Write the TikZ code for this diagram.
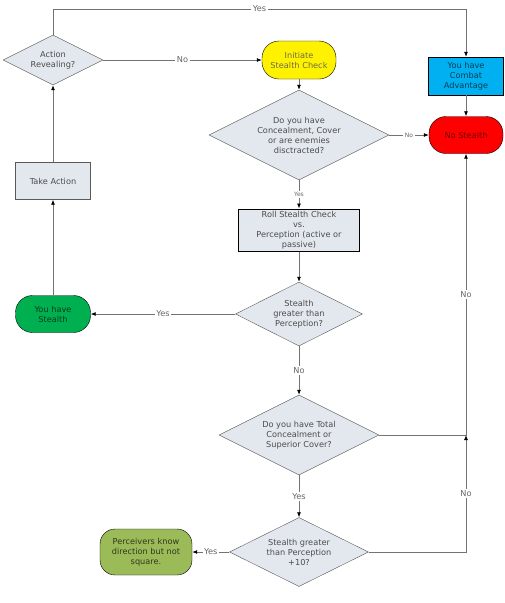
\documentclass[tikz,border=0pt]{standalone}
\usepackage{fontspec}
\setmainfont{DejaVu Sans}
\usepackage{tikz}
\usetikzlibrary{arrows.meta,shapes.geometric,positioning}
\definecolor{boxgray}{HTML}{E3E7EE}
\definecolor{advblue}{HTML}{00B0F0}
\definecolor{stgreen}{HTML}{00B050}
\definecolor{percgreen}{HTML}{9BBB59}

\begin{document}
\begin{tikzpicture}[x=1pt,y=-1pt,
  every node/.style={font=\fontsize{8.2}{10}\selectfont, text=black!70},
  dec/.style={diamond, aspect=2, draw=black!65, fill=boxgray, inner sep=0pt, align=center},
  box/.style={rectangle, draw=black!65, fill=boxgray, align=center},
  term/.style={rectangle, rounded corners=17pt, draw=black, align=center},
  lbl/.style={fill=white, inner sep=1.5pt, text=black!60},
  tiny/.style={font=\fontsize{6}{7}\selectfont},
  ln/.style={draw=black!55, line width=0.8pt},
  >={Latex[length=5pt,width=4pt,color=black]}]
      \useasboundingbox (0,0) rectangle (505,603);
      \node[dec, minimum width=100pt, minimum height=50pt] at (53,60) (rev) {Action\\Revealing?};
      \node[term, fill=yellow, text=yellow!35!black, minimum width=74pt, minimum height=38pt] at (299,60) (init) {Initiate\\Stealth Check};
      \node[dec, minimum width=180pt, minimum height=90pt] at (299,135) (conc) {Do you have\\Concealment, Cover\\or are enemies\\disctracted?};
      \node[box, fill=advblue, draw=black, text=advblue!35!black, minimum width=75pt, minimum height=38pt, inner sep=1pt] at (466,76) (adv) {You have\\Combat\\Advantage};
      \node[term, fill=red, text=red!45!black, minimum width=74pt, minimum height=37pt] at (466,135) (nost) {No Stealth};
      \node[box, minimum width=75pt, minimum height=37pt] at (53,181) (act) {Take Action};
      \node[box, draw=black, line width=1pt, minimum width=121pt, minimum height=42pt, inner sep=1pt] at (299,230) (roll) {Roll Stealth Check\\vs.\\Perception (active or\\passive)};
      \node[dec, minimum width=127pt, minimum height=64pt] at (299,314) (sgp) {Stealth\\greater than\\Perception?};
      \node[term, fill=stgreen, text=stgreen!35!black, minimum width=75pt, minimum height=37pt] at (53,314) (have) {You have\\Stealth};
      \node[dec, minimum width=160pt, minimum height=80pt] at (299,435) (tcov) {Do you have Total\\Concealment or\\Superior Cover?};
      \node[dec, minimum width=139pt, minimum height=69pt] at (299,552) (sgpt) {Stealth greater\\than Perception\\+10?};
      \node[term, fill=percgreen, text=percgreen!30!black, rounded corners=15pt, minimum width=92pt, minimum height=46pt, inner sep=1pt] at (146,552) (perc) {Perceivers know\\direction but not\\square.};
      \coordinate (tl) at (53,9);
      \coordinate (tr) at (466,9);
      \coordinate (jn) at (466,435);
      \draw[ln,->] (rev) -- node[lbl]{No} (init);
      \draw[ln,->] (init) -- (conc);
      \draw[ln,->] (conc) -- node[lbl,tiny]{No} (nost);
      \draw[ln,->] (conc) -- node[lbl,tiny]{Yes} (roll);
      \draw[ln,->] (roll) -- (sgp);
      \draw[ln,->] (sgp) -- node[lbl]{Yes} (have);
      \draw[ln,->] (sgp) -- node[lbl]{No} (tcov);
      \draw[ln,->] (tcov) -- node[lbl]{Yes} (sgpt);
      \draw[ln,->] (sgpt) -- node[lbl]{Yes} (perc);
      \draw[ln,->] (have) -- (act);
      \draw[ln,->] (act) -- (rev);
      \draw[ln,->] (adv) -- (nost);
      \draw[ln,->] (rev.north) -- (tl) -- node[lbl]{Yes} (tr) -- (adv.north);
      \draw[ln,->] (tcov.east) -| node[lbl,pos=0.75]{No} (nost.south);
      \draw[ln,->] (sgpt.east) -| node[lbl,pos=0.75]{No} (jn);
\end{tikzpicture}
\end{document}
